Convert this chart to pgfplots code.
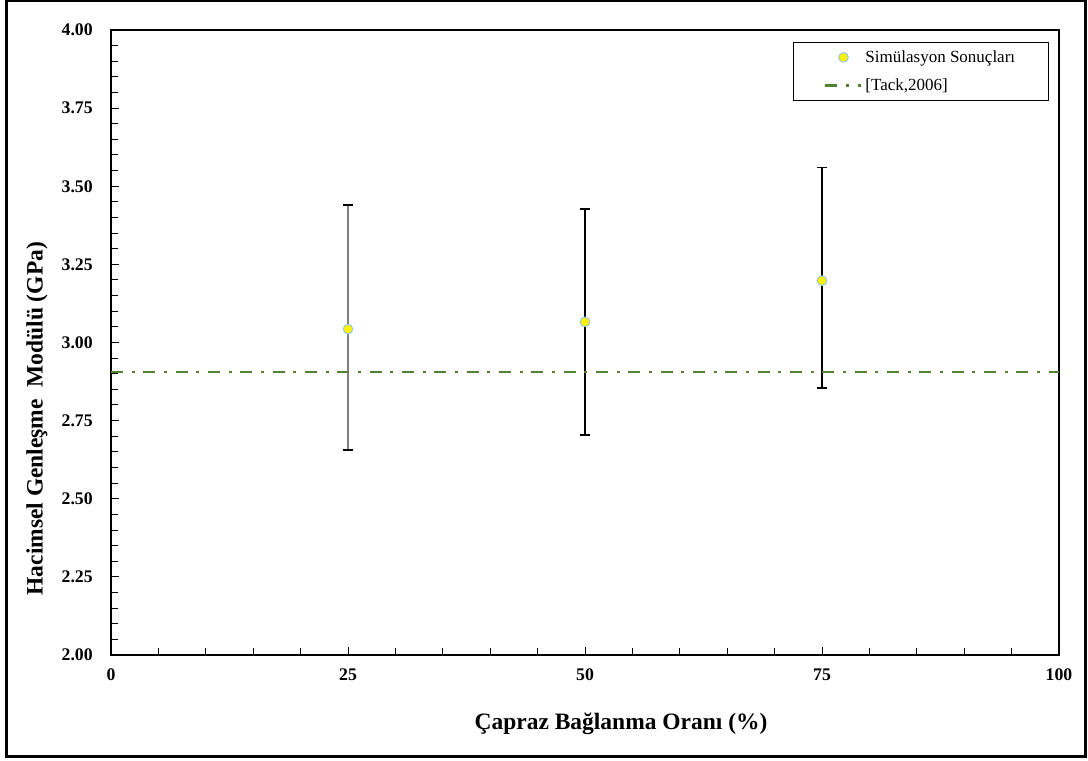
\documentclass[border=0pt]{standalone}
\usepackage{pgfplots}
\pgfplotsset{compat=1.18}
\usepackage{fontspec}
\setmainfont{Liberation Serif}
\definecolor{tackgreen}{RGB}{84,130,53}
\definecolor{mkedge}{RGB}{150,200,230}
\pgfplotsset{
  lineleg/.style={legend image code/.code={\draw[##1] (0pt,0pt) -- (27pt,0pt);}},
  markleg/.style={legend image code/.code={\draw[##1] plot coordinates {(13.5pt,0pt)};}},
}
\begin{document}
\begin{tikzpicture}[x=1pt,y=1pt]
% page extent and frame (1px = 0.75pt; axis SW corner at pixel (111,655))
\path[use as bounding box] (-83.25,-78.75) rectangle (732.75,491.25);
\draw[line width=2.25pt] (-78,-75.75) rectangle (730.5,490.5);
\begin{axis}[
  at={(0,0)}, anchor=south west,
  scale only axis, width=711pt, height=468.75pt,
  xmin=0, xmax=100, ymin=2, ymax=4,
  xtick={0,25,50,75,100}, minor xtick={5,10,15,20,30,35,40,45,55,60,65,70,80,85,90,95},
  ytick={2,2.25,...,4.01}, minor ytick={2.05,2.1,...,4.0},
  tick pos=left, tick align=inside,
  major tick length=6pt, minor tick length=5pt,
  every tick/.style={black, line width=0.75pt},
  axis line style={line width=1pt},
  /pgf/number format/assume math mode=true,
  yticklabel style={font=\bfseries\fontsize{13.3}{15}\selectfont, anchor=east, inner sep=0pt, xshift=-13.5pt,
    /pgf/number format/.cd, fixed, fixed zerofill, precision=2},
  xticklabel style={font=\bfseries\fontsize{13.3}{15}\selectfont, anchor=north, inner sep=0pt, yshift=-10pt},
  xlabel={Çapraz Bağlanma Oranı (\%)},
  ylabel={Hacimsel Genleşme\ \ Modülü (GPa)},
  every axis x label/.style={at={(axis description cs:0.538,-0.11)}, anchor=center,
    font=\bfseries\fontsize{17.6}{20}\selectfont},
  every axis y label/.style={at={(axis description cs:-0.078,0.378)}, anchor=center, rotate=90,
    font=\bfseries\fontsize{17.6}{20}\selectfont},
  legend style={at={(axis description cs:1,1)}, anchor=north east, xshift=-7.5pt, yshift=-9pt,
    draw=black, line width=0.75pt, font=\fontsize{12.75}{15}\selectfont,
    inner xsep=23pt, inner ysep=4pt, row sep=6.5pt},
  legend cell align=left,
  reverse legend,
]
% error bars
\addplot[draw=none, forget plot, mark=none,
  error bars/.cd, y dir=both, y explicit,
  error bar style={gray, line width=1.5pt},
  error mark options={black, line width=1pt, mark size=3.4pt, rotate=90}]
  coordinates {(25,3.043) += (0,0.397) -= (0,0.387)};
\addplot[draw=none, forget plot, mark=none,
  error bars/.cd, y dir=both, y explicit,
  error bar style={black, line width=0.9pt},
  error mark options={black, line width=1pt, mark size=3.4pt, rotate=90}]
  coordinates {(50,3.066) += (0,0.361) -= (0,0.362)
               (75,3.198) += (0,0.362) -= (0,0.344)};
% dashed reference line
\addplot[tackgreen, line width=2pt, dash pattern=on 9pt off 6.5pt on 2.25pt off 6.5pt, lineleg]
  coordinates {(0,2.906) (100,2.906)};
\addlegendentry{\mbox{[Tack,2006]}}
% markers
\addplot[only marks, mark=*, mark size=3.6pt, mark options={fill=yellow, draw=mkedge, line width=0.75pt}, markleg]
  coordinates {(25,3.043) (50,3.066) (75,3.198)};
\addlegendentry{Simülasyon Sonuçları}
\end{axis}
\end{tikzpicture}
\end{document}
